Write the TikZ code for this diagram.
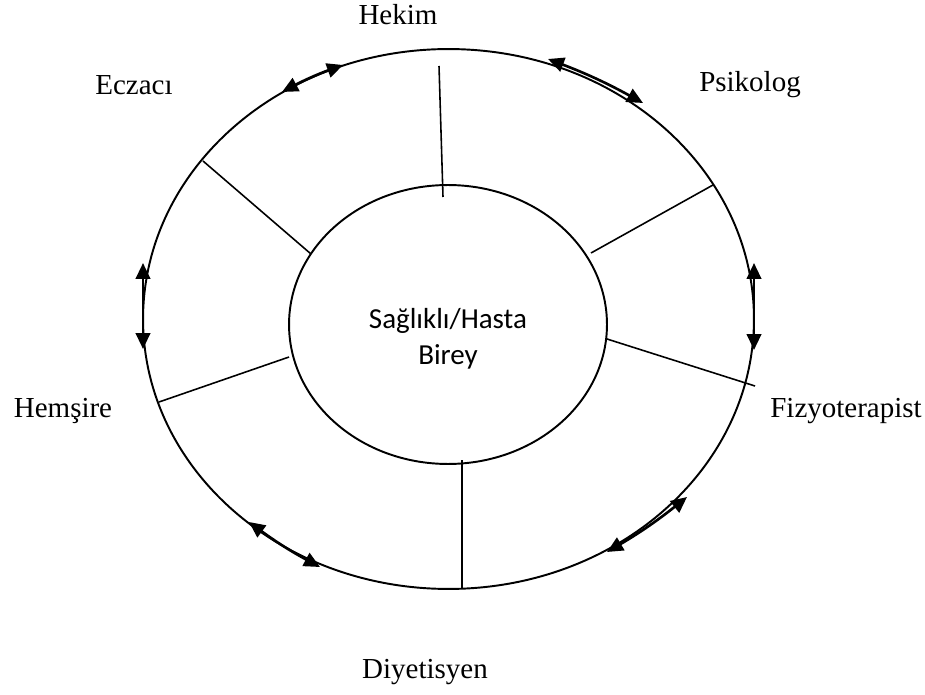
\documentclass[tikz,border=0pt]{standalone}
\usepackage{fontspec}
\setmainfont{Liberation Serif}
\newfontfamily\calibri{Carlito}
\usetikzlibrary{arrows.meta, shapes.geometric}

\begin{document}
\begin{tikzpicture}[x=0.02cm, y=-0.02cm, >={Triangle[length=0.32cm, width=0.29cm]},
  every node/.style={font=\fontsize{16.5}{20}\selectfont},
  ring/.style={draw, ellipse, inner sep=0pt, line width=1.1pt},
  spoke/.style={line width=0.9pt},
  link/.style={<->, line width=1.5pt}]
\useasboundingbox (0,0) rectangle (925,695);
\node[ring, minimum width=12.22cm, minimum height=10.8cm] (outer) at (448.5,319) {};
\node[ring, minimum width=6.36cm, minimum height=5.58cm] (inner) at (448,324.5) {};
\node[align=center, font=\calibri\fontsize{16.5}{20.5}\selectfont] (birey) at (448,339) {Sağlıklı/Hasta\\Birey};
\node (hekim)    at (398,15)  {Hekim};
\node (eczaci)   at (134,85)  {Eczacı};
\node (psikolog) at (750,85)  {Psikolog};
\node (hemsire)  at (63,411)  {Hemşire};
\node (fizyo)    at (846,411) {Fizyoterapist};
\node (diyet)    at (425,672) {Diyetisyen};
\coordinate (topO) at (439,66);   \coordinate (topI) at (443,197);
\coordinate (ulO)  at (203,161);  \coordinate (ulI)  at (311,254);
\coordinate (llO)  at (159,402);  \coordinate (llI)  at (289,357);
\coordinate (urO)  at (713,185);  \coordinate (urI)  at (591,253);
\coordinate (lrO)  at (755,386);  \coordinate (lrI)  at (607,339);
\coordinate (botO) at (462,589);  \coordinate (botI) at (462,460);
\draw[spoke] (topO) -- (topI);
\draw[spoke] (ulO) -- (ulI);
\draw[spoke] (llO) -- (llI);
\draw[spoke] (urO) -- (urI);
\draw[spoke] (lrO) -- (lrI);
\draw[spoke] (botO) -- (botI);
\coordinate (a1) at (282,92);  \coordinate (b1) at (343,65);
\coordinate (a2) at (548,59);  \coordinate (b2) at (643,103);
\coordinate (a3) at (754,263); \coordinate (b3) at (754,350);
\coordinate (a4) at (687,497); \coordinate (b4) at (607,552);
\coordinate (a5) at (320,567); \coordinate (b5) at (249,522);
\coordinate (a6) at (143,263); \coordinate (b6) at (143,349);
\draw[link] (a1) to[bend left=4] (b1);
\draw[link] (a2) to[bend left=4] (b2);
\draw[link] (a3) -- (b3);
\draw[link] (a4) to[bend left=4] (b4);
\draw[link] (a5) to[bend left=4] (b5);
\draw[link] (a6) -- (b6);
\end{tikzpicture}
\end{document}
